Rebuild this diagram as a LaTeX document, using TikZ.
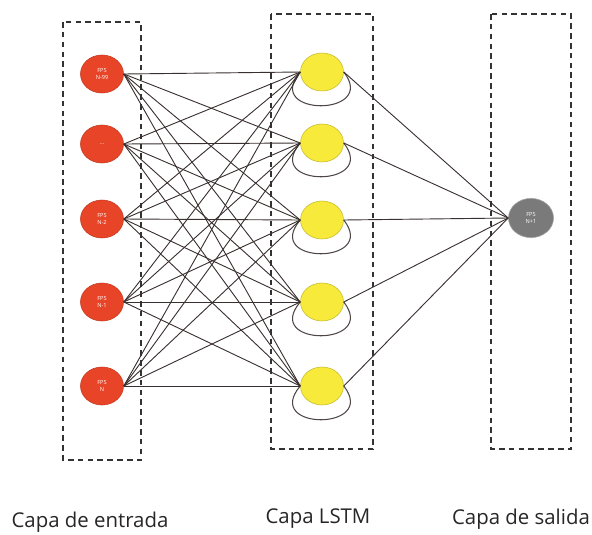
\documentclass[tikz,border=0pt]{standalone}
\usepackage{fontspec}
\setmainfont{Open Sans}
\usetikzlibrary{shapes.geometric}

\definecolor{entradared}{RGB}{232,68,40}
\definecolor{lstmyellow}{RGB}{248,234,58}
\definecolor{salidagray}{RGB}{122,122,122}
\definecolor{wirecolor}{RGB}{58,48,48}

\tikzset{%
    recurrent/.style = {%
        draw = wirecolor!90!white,
        line width = 0.75pt
    }
}

\begin{document}
\begin{tikzpicture}[x=0.025cm, y=-0.025cm]
        \useasboundingbox (0,0) rectangle (592,534);

        % Dashed boxes around the layers.
        \begin{scope}[%
            every path/.style = {%
                draw = black!80,
                line width = 1.3pt,
                dash pattern = on 4pt off 3pt
            }
        ]
            \draw (63,22) rectangle (141,460);
            \draw (271,14) rectangle (373,449);
            \draw (491,14) rectangle (571,449);
        \end{scope}

        \begin{scope}[%
            every node/.style = {%
                ellipse,
                minimum width = 1.075cm,
                minimum height = 0.95cm,
                inner sep = 0pt,
                text = white,
                align = center,
                font = \fontsize{4}{4.5}\selectfont
            }
        ]

            % Input layer.
            \node [fill = entradared, draw = entradared!85!black] (I1) at (102,74) {FPS\\N-99};
            \node [fill = entradared, draw = entradared!85!black] (I2) at (102,144) {...};
            \node [fill = entradared, draw = entradared!85!black] (I3) at (102,219) {FPS\\N-2};
            \node [fill = entradared, draw = entradared!85!black] (I4) at (102,302) {FPS\\N-1};
            \node [fill = entradared, draw = entradared!85!black] (I5) at (102,386) {FPS\\N};

            % LSTM layer.
            \node [fill = lstmyellow, draw = lstmyellow!80!black] (L1) at (322,72) {};
            \node [fill = lstmyellow, draw = lstmyellow!80!black] (L2) at (322,143) {};
            \node [fill = lstmyellow, draw = lstmyellow!80!black] (L3) at (322,220) {};
            \node [fill = lstmyellow, draw = lstmyellow!80!black] (L4) at (322,302) {};
            \node [fill = lstmyellow, draw = lstmyellow!80!black] (L5) at (322,386) {};

            % Output layer.
            \node [fill = salidagray, draw = salidagray!70!white, minimum width = 1.125cm, minimum height = 0.98cm] (O) at (531,218) {FPS\\N+1};
        \end{scope}

        % Recurrent loops.
        \draw [recurrent] (L1.west) .. controls +(-38,45) and +(35,45) .. (L1.east);
        \draw [recurrent] (L2.west) .. controls +(-38,45) and +(35,45) .. (L2.east);
        \draw [recurrent] (L3.west) .. controls +(-38,45) and +(35,45) .. (L3.east);
        \draw [recurrent] (L4.west) .. controls +(-38,45) and +(35,45) .. (L4.east);
        \draw [recurrent] (L5.west) .. controls +(-38,45) and +(35,45) .. (L5.east);

        \begin{scope}[%
            every edge/.style = {%
                draw = wirecolor,
                line width = 0.65pt
            }
        ]

            % Input to LSTM connections.
            \path (I1.east) edge (L1.west) edge (L2.west) edge (L3.west) edge (L4.west) edge (L5.west);
            \path (I2.east) edge (L1.west) edge (L2.west) edge (L3.west) edge (L4.west) edge (L5.west);
            \path (I3.east) edge (L1.west) edge (L2.west) edge (L3.west) edge (L4.west) edge (L5.west);
            \path (I4.east) edge (L1.west) edge (L2.west) edge (L3.west) edge (L4.west) edge (L5.west);
            \path (I5.east) edge (L1.west) edge (L2.west) edge (L3.west) edge (L4.west) edge (L5.west);

            % LSTM to output connections.
            \path (L1.east) edge (O.west);
            \path (L2.east) edge (O.west);
            \path (L3.east) edge (O.west);
            \path (L4.east) edge (O.west);
            \path (L5.east) edge (O.west);
        \end{scope}

        % Layer captions.
        \begin{scope}[every node/.style = {font = \fontsize{14.5}{17}\selectfont, text = black!85}]
            \node (capentrada) at (90,522) {Capa de entrada};
            \node (caplstm) at (318,519) {Capa LSTM};
            \node (capsalida) at (521,519) {Capa de salida};
        \end{scope}
    \end{tikzpicture}
\end{document}
